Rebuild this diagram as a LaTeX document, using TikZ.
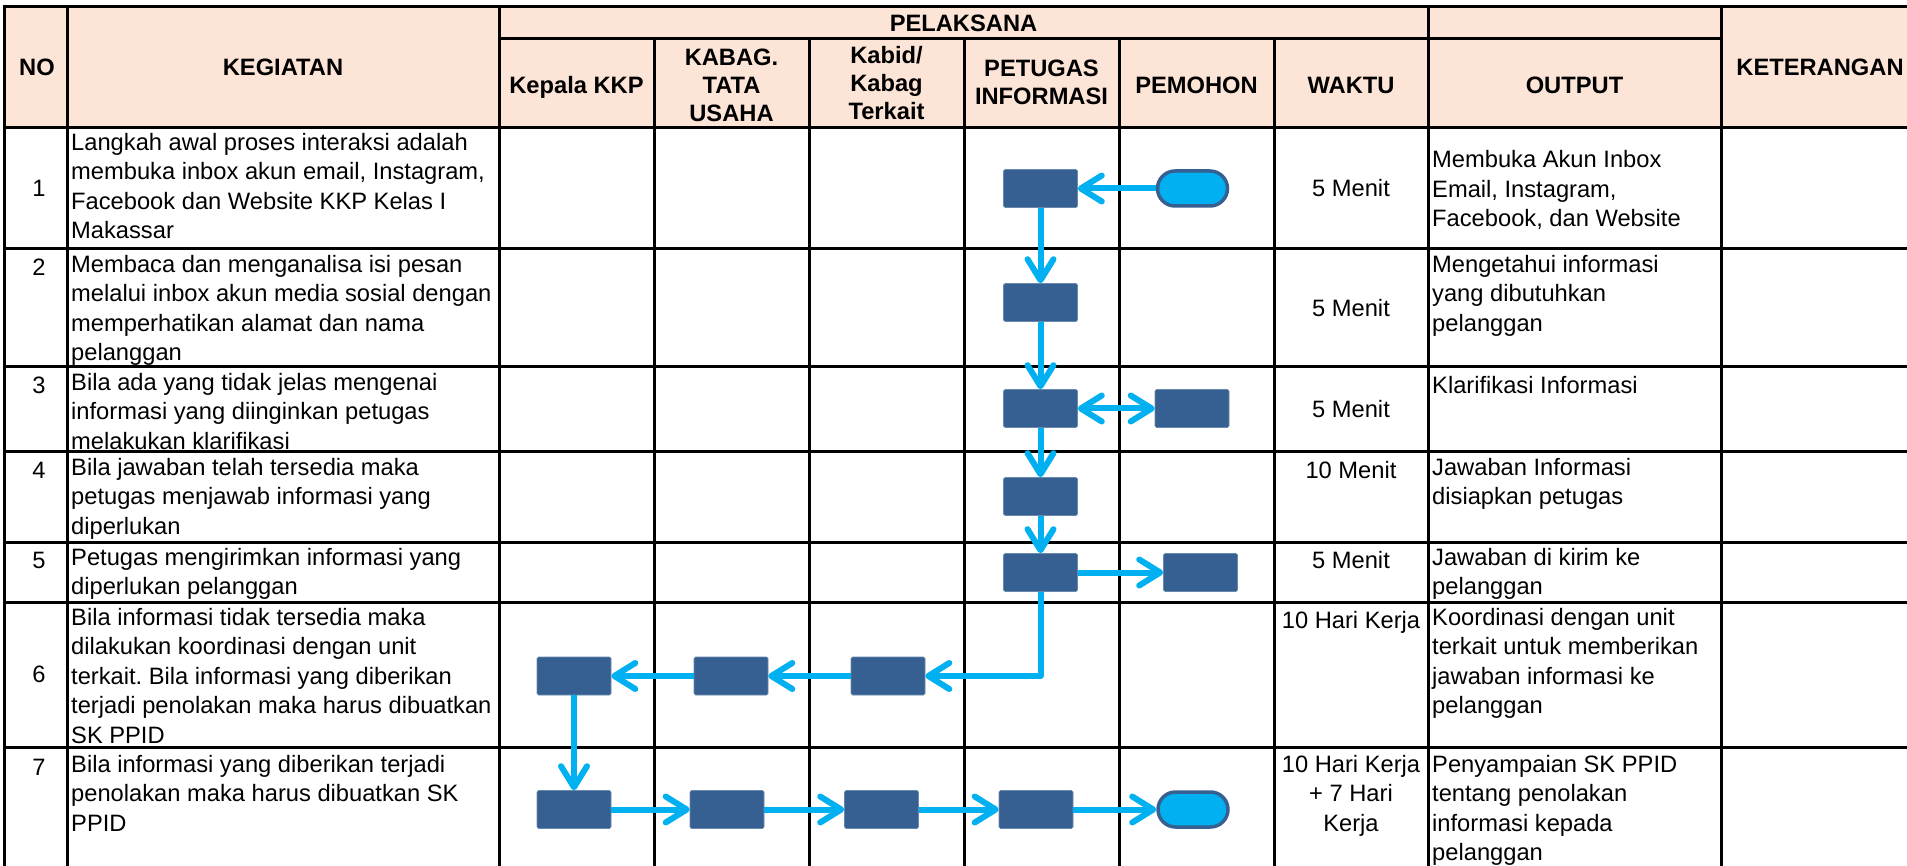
\documentclass[tikz,border=0pt]{standalone}
\usepackage{fontspec}
\setmainfont{Liberation Sans}
\usetikzlibrary{arrows.meta,shapes.misc}
\definecolor{hdr}{HTML}{FCE4D6}
\definecolor{boxblue}{HTML}{376092}
\definecolor{flow}{HTML}{00B0F0}
\frenchspacing
\tikzset{
  gridline/.style={line width=3pt, black},
  proc/.style={rectangle, rounded corners=1.5pt, fill=boxblue, draw=boxblue!75!white, line width=0.6pt,
    minimum width=74pt, minimum height=38pt, inner sep=0pt},
  term/.style={rounded rectangle, fill=flow, draw=boxblue, line width=3.5pt,
    minimum width=70pt, minimum height=35pt, inner sep=0pt},
  flowline/.style={draw=flow, line width=6pt, line join=round,
    -{Straight Barb[length=21pt,width=26pt,round]}},
  flowboth/.style={draw=flow, line width=6pt,
    {Straight Barb[length=21pt,width=26pt,round]}-{Straight Barb[length=21pt,width=26pt,round]}},
  body/.style={font=\fontsize{23.7}{29.5}\selectfont, inner sep=0pt,
    execute at begin node=\strut, execute at end node=\strut},
  lft/.style={body, align=left, anchor=north west},
  lftc/.style={body, align=left, anchor=west},
  ctr/.style={body, align=center},
  ctrt/.style={body, align=center, anchor=north},
  hd/.style={body, font=\fontsize{23.7}{28}\selectfont\bfseries, align=center},
}
\begin{document}
\begin{tikzpicture}[x=1pt, y=-1pt]
\useasboundingbox (0,0) rectangle (1907,866);
% header background
\fill[hdr] (4,7) rectangle (1907,128);
% grid
\draw[gridline] (4,866) -- (4,7) -- (1907,7);
\draw[gridline] (499,39) -- (1721,39);
\foreach \yy in {128,249,367,452,542,602,747} {\draw[gridline] (4,\yy) -- (1907,\yy);}
\foreach \xx in {67,499,1428,1721} {\draw[gridline] (\xx,7) -- (\xx,866);}
\foreach \xx in {654,809,964,1119,1274} {\draw[gridline] (\xx,39) -- (\xx,866);}

% header texts
\node[hd] (hno) at (37,69.5) {NO};
\node[hd] (hkeg) at (283,69.5) {KEGIATAN};
\node[hd] (hpel) at (963.5,25.5) {PELAKSANA};
\node[hd] (hket) at (1820,69.5) {KETERANGAN};
\node[hd] (hkep) at (576.5,87.5) {Kepala KKP};
\node[hd] (htu) at (731.5,89) {KABAG.\\TATA\\USAHA};
\node[hd] (hkab) at (886.5,87) {Kabid/\\Kabag\\Terkait};
\node[hd] (hpet) at (1041.5,86.5) {PETUGAS\\INFORMASI};
\node[hd] (hpem) at (1196.5,87.5) {PEMOHON};
\node[hd] (hwak) at (1351,87.5) {WAKTU};
\node[hd] (hout) at (1574.5,87.5) {OUTPUT};

% NO column
\node[ctr] (no1) at (39,191) {1};
\node[ctrt] (no2) at (39,255) {2};
\node[ctrt] (no3) at (39,373) {3};
\node[ctrt] (no4) at (39,458) {4};
\node[ctrt] (no5) at (39,548) {5};
\node[ctr] (no6) at (39,677) {6};
\node[ctrt] (no7) at (39,755) {7};

% KEGIATAN column
\node[lft] (k1) at (71,133) {Langkah awal proses interaksi adalah\\membuka inbox akun email, Instagram,\\Facebook dan Website KKP Kelas I\\Makassar};
\node[lft] (k2) at (71,255) {Membaca dan menganalisa isi pesan\\melalui inbox akun media sosial dengan\\memperhatikan alamat dan nama\\pelanggan};
\node[lft] (k3) at (71,373) {Bila ada yang tidak jelas mengenai\\informasi yang diinginkan petugas\\melakukan klarifikasi};
\node[lft] (k4) at (71,458) {Bila jawaban telah tersedia maka\\petugas menjawab informasi yang\\diperlukan};
\node[lft] (k5) at (71,548) {Petugas mengirimkan informasi yang\\diperlukan pelanggan};
\node[lft] (k6) at (71,608) {Bila informasi tidak tersedia maka\\dilakukan koordinasi dengan unit\\terkait. Bila informasi yang diberikan\\terjadi penolakan maka harus dibuatkan\\SK PPID};
\node[lft] (k7) at (71,755) {Bila informasi yang diberikan terjadi\\penolakan maka harus dibuatkan SK\\PPID};

% WAKTU column
\node[ctr] (w1) at (1351,191) {5 Menit};
\node[ctr] (w2) at (1351,310.5) {5 Menit};
\node[ctr] (w3) at (1351,412) {5 Menit};
\node[ctrt] (w4) at (1351,458) {10 Menit};
\node[ctrt] (w5) at (1351,548) {5 Menit};
\node[ctrt] (w6) at (1351,608) {10 Hari Kerja};
\node[ctrt] (w7) at (1351,755) {10 Hari Kerja\\+ 7 Hari\\Kerja};

% OUTPUT column
\node[lftc] (o1) at (1432,193) {Membuka Akun Inbox\\Email, Instagram,\\Facebook, dan Website};
\node[lft] (o2) at (1432,255) {Mengetahui informasi\\yang dibutuhkan\\pelanggan};
\node[lft] (o3) at (1432,373) {Klarifikasi Informasi};
\node[lft] (o4) at (1432,458) {Jawaban Informasi\\disiapkan petugas};
\node[lft] (o5) at (1432,548) {Jawaban di kirim ke\\pelanggan};
\node[lft] (o6) at (1432,608) {Koordinasi dengan unit\\terkait untuk memberikan\\jawaban informasi ke\\pelanggan};
\node[lft] (o7) at (1432,755) {Penyampaian SK PPID\\tentang penolakan\\informasi kepada\\pelanggan};

% flow shapes
\node[term] (m1) at (1192.5,188.5) {};
\node[proc] (p1) at (1040.5,188.5) {};
\node[proc] (p2) at (1040.5,302.5) {};
\node[proc] (p3) at (1040.5,408.5) {};
\node[proc] (m3) at (1192,408.5) {};
\node[proc] (p4) at (1040.5,496.5) {};
\node[proc] (p5) at (1040.5,572.5) {};
\node[proc] (m5) at (1200.5,572.5) {};
\node[proc] (a6) at (574,676) {};
\node[proc] (b6) at (731,676) {};
\node[proc] (c6) at (888,676) {};
\node[proc] (a7) at (574,809.5) {};
\node[proc] (b7) at (727,809.5) {};
\node[proc] (c7) at (881.5,809.5) {};
\node[proc] (p7) at (1036,809.5) {};
\node[term] (m7) at (1193,809.5) {};

% connectors
\draw[flowline] (m1.west) -- (p1.east);
\draw[flowline] (p1.south) -- (p2.north);
\draw[flowline] (p2.south) -- (p3.north);
\draw[flowboth] (p3.east) -- (m3.west);
\draw[flowline] (p3.south) -- (p4.north);
\draw[flowline] (p4.south) -- (p5.north);
\draw[flowline] (p5.east) -- (m5.west);
\draw[flowline] (p5.south) |- (c6.east);
\draw[flowline] (c6.west) -- (b6.east);
\draw[flowline] (b6.west) -- (a6.east);
\draw[flowline] (a6.south) -- (a7.north);
\draw[flowline] (a7.east) -- (b7.west);
\draw[flowline] (b7.east) -- (c7.west);
\draw[flowline] (c7.east) -- (p7.west);
\draw[flowline] (p7.east) -- (m7.west);
\end{tikzpicture}
\end{document}
